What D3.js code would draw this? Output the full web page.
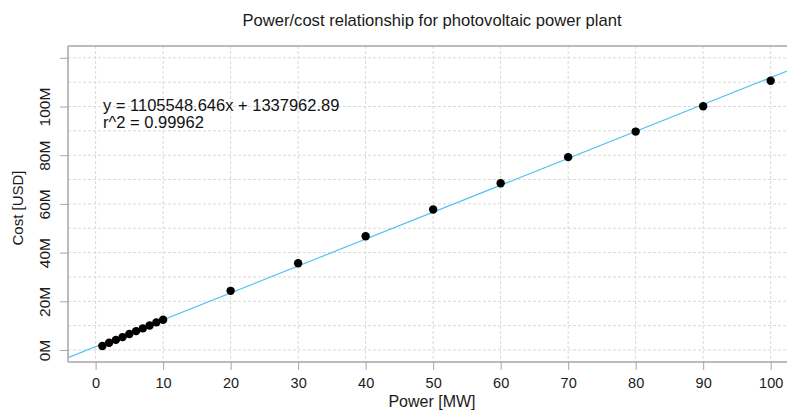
<!DOCTYPE html>
<html>
<head>
<meta charset="utf-8">
<script src="https://cdn.jsdelivr.net/npm/d3@7"></script>
<style>
  html, body { margin: 0; padding: 0; background: #fff; }
  svg { display: block; font-family: "Liberation Sans", Arial, sans-serif; }
</style>
</head>
<body>
<svg id="chart" width="787" height="412"></svg>
<script>
// Plant size (MW) and total cost (USD)
const powerMW = [1, 2, 3, 4, 5, 6, 7, 8, 9, 10, 20, 30, 40, 50, 60, 70, 80, 90, 100];
const costUSD = [1.65e6, 2.95e6, 4.15e6, 5.3e6, 6.55e6, 7.75e6, 8.9e6, 10.05e6, 11.35e6, 12.45e6,
                 24.3e6, 35.6e6, 46.7e6, 57.7e6, 68.5e6, 79.2e6, 89.7e6, 100.1e6, 110.6e6];

// Least-squares fit reported on the chart
const fitSlope = 1105548.646;
const fitIntercept = 1337962.89;
const fitR2 = 0.99962;

const xTicks = [0, 10, 20, 30, 40, 50, 60, 70, 80, 90, 100];
const yTicks = [0, 20e6, 40e6, 60e6, 80e6, 100e6, 120e6];
const yGrid = [0, 10e6, 20e6, 30e6, 40e6, 50e6, 60e6, 70e6, 80e6, 90e6, 100e6, 110e6, 120e6];
const yTickLabels = ["0M", "20M", "40M", "60M", "80M", "100M", ""];

const svg = d3.select("#chart");
const plot = { left: 68, top: 46, right: 797, bottom: 362 };

const x = d3.scaleLinear().domain([-4.09, 103.9]).range([plot.left, plot.right]);
const y = d3.scaleLinear().domain([-4.93e6, 124.85e6]).range([plot.bottom, plot.top]);

svg.append("defs").append("clipPath").attr("id", "plotClip")
  .append("rect")
  .attr("x", plot.left).attr("y", plot.top)
  .attr("width", plot.right - plot.left).attr("height", plot.bottom - plot.top);

// grid
const grid = svg.append("g").attr("stroke", "#d9d9d9").attr("stroke-width", 1)
  .attr("stroke-dasharray", "3,2");
grid.selectAll("line.gy").data(yGrid).join("line")
  .attr("x1", plot.left).attr("x2", plot.right)
  .attr("y1", d => y(d)).attr("y2", d => y(d));
grid.selectAll("line.gx").data(xTicks).join("line")
  .attr("y1", plot.top).attr("y2", plot.bottom)
  .attr("x1", d => x(d)).attr("x2", d => x(d));

// frame lines
const frame = svg.append("g").attr("stroke", "#a6a6a6").attr("stroke-width", 1.5);
frame.append("line").attr("x1", plot.left).attr("x2", plot.right).attr("y1", plot.top).attr("y2", plot.top);

// axes
const xAxis = d3.axisBottom(x).tickValues(xTicks).tickSize(8).tickPadding(8)
  .tickFormat(d3.format("d"));
const gx = svg.append("g").attr("transform", `translate(0,${plot.bottom})`).call(xAxis);
gx.select(".domain").attr("stroke", "#a6a6a6").attr("stroke-width", 1.5)
  .attr("d", `M${plot.left},0H${plot.right}`);
gx.selectAll(".tick line").attr("stroke", "#a6a6a6").attr("stroke-width", 1);
gx.selectAll(".tick text").attr("font-size", 14.5).attr("fill", "#1a1a1a")
  .attr("font-family", "Liberation Sans, Arial, sans-serif");

const yAxis = d3.axisLeft(y).tickValues(yTicks).tickSize(8)
  .tickFormat((d, i) => yTickLabels[i]);
const gy = svg.append("g").attr("transform", `translate(${plot.left},0)`).call(yAxis);
gy.select(".domain").attr("stroke", "#a6a6a6").attr("stroke-width", 1.5)
  .attr("d", `M0,${plot.top}V${plot.bottom}`);
gy.selectAll(".tick line").attr("stroke", "#a6a6a6").attr("stroke-width", 1);
gy.selectAll(".tick text")
  .attr("font-size", 15.5).attr("fill", "#1a1a1a")
  .attr("font-family", "Liberation Sans, Arial, sans-serif")
  .attr("text-anchor", "middle")
  .attr("x", null).attr("dy", null)
  .attr("transform", "translate(-18,0) rotate(-90)");

// fit line and points
const body = svg.append("g").attr("clip-path", "url(#plotClip)");
const xd = x.domain();
body.append("line")
  .attr("x1", x(xd[0])).attr("y1", y(fitSlope * xd[0] + fitIntercept))
  .attr("x2", x(xd[1])).attr("y2", y(fitSlope * xd[1] + fitIntercept))
  .attr("stroke", "#55c4ee").attr("stroke-width", 1.2);

body.selectAll("circle").data(powerMW).join("circle")
  .attr("cx", d => x(d))
  .attr("cy", (d, i) => y(costUSD[i]))
  .attr("r", 4.2)
  .attr("fill", "#000");

// titles
svg.append("text").attr("x", 432).attr("y", 25.5).attr("text-anchor", "middle")
  .attr("font-size", 16.6).attr("fill", "#1a1a1a")
  .text("Power/cost relationship for photovoltaic power plant");

svg.append("text").attr("x", 432).attr("y", 407).attr("text-anchor", "middle")
  .attr("font-size", 16).attr("fill", "#1a1a1a")
  .text("Power [MW]");

svg.append("text").attr("transform", "translate(23,208) rotate(-90)")
  .attr("text-anchor", "middle").attr("font-size", 15).attr("fill", "#1a1a1a")
  .text("Cost [USD]");

// fit annotation
const ann = svg.append("g").attr("font-size", 16.5).attr("fill", "#111");
ann.append("text").attr("x", 103).attr("y", 110.5)
  .text(`y = ${fitSlope.toFixed(3)}x + ${fitIntercept.toFixed(2)}`);
ann.append("text").attr("x", 103).attr("y", 128)
  .text(`r^2 = ${fitR2}`);
</script>
</body>
</html>
